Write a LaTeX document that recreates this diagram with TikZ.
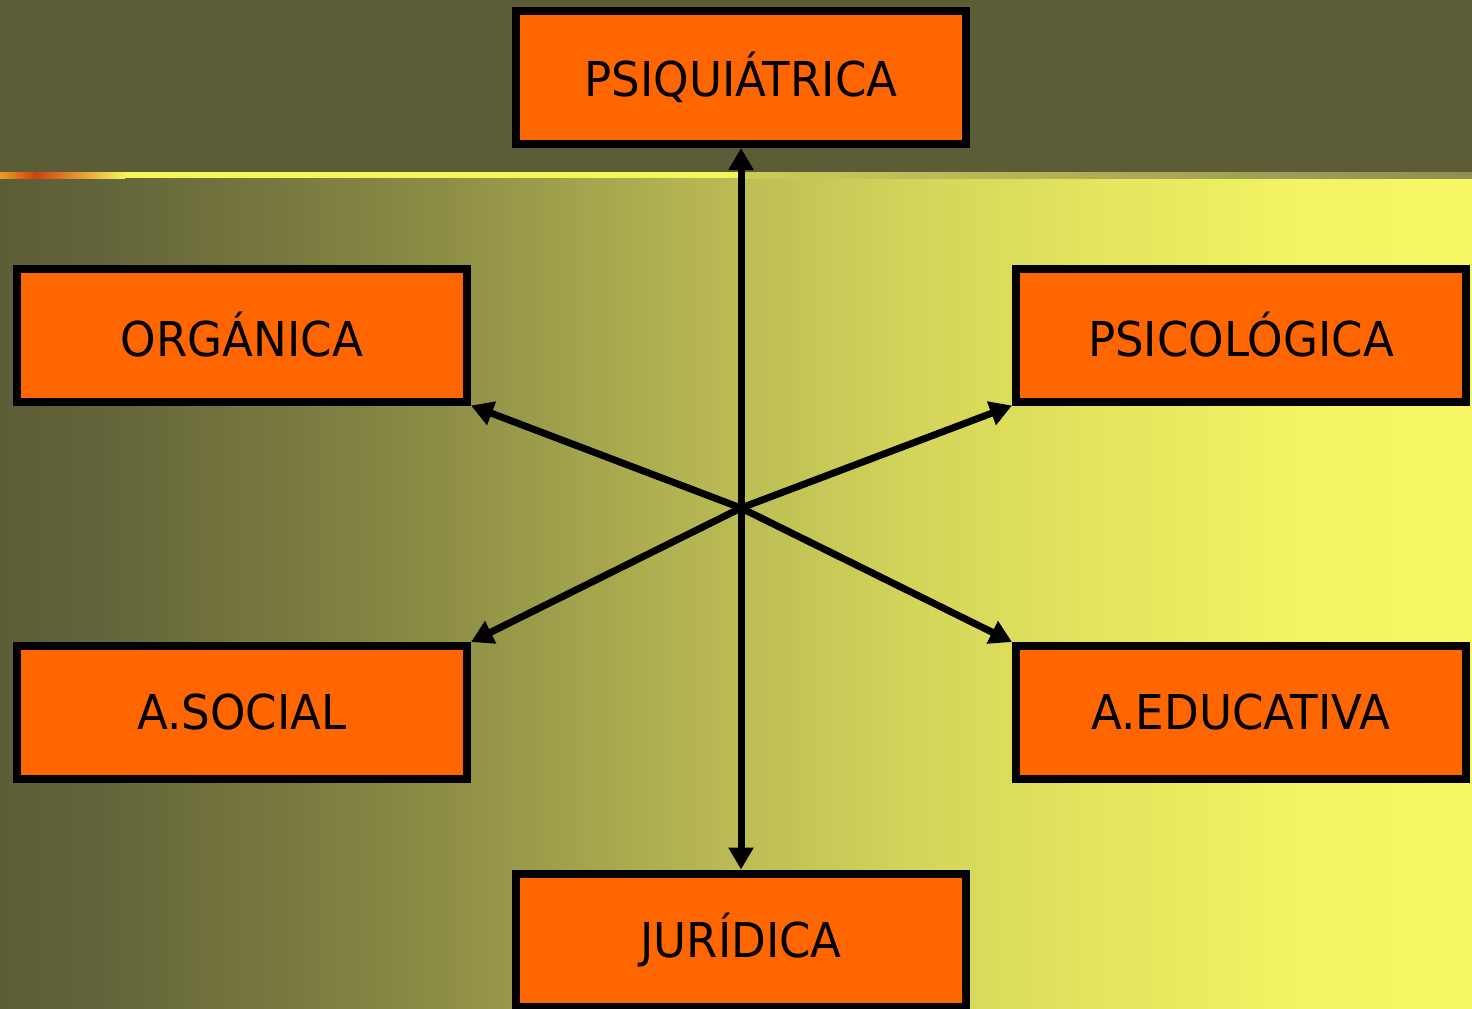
\documentclass[tikz,border=0pt]{standalone}
\usepackage{fontspec}
\setmainfont{DejaVu Sans}[FakeStretch=0.94]
\usetikzlibrary{arrows.meta}

\definecolor{bgdark}{HTML}{5C5D36}
\definecolor{bgA}{HTML}{63643A}
\definecolor{bgB}{HTML}{7A7B40}
\definecolor{bgC}{HTML}{8E8F46}
\definecolor{bgD}{HTML}{A6A74D}
\definecolor{bgE}{HTML}{BDBE55}
\definecolor{bgF}{HTML}{D2D35A}
\definecolor{bgG}{HTML}{E5E55F}
\definecolor{bgH}{HTML}{F3F363}
\definecolor{bgyellow}{HTML}{F8F866}
\definecolor{boxorange}{HTML}{FF6600}
\definecolor{rulered}{HTML}{D04010}
\definecolor{ruleorange}{HTML}{E8A020}
\definecolor{ruleyellow}{HTML}{F5F55A}
\definecolor{rulegrey}{HTML}{8E8E55}

\pgfdeclarehorizontalshading{bgfade}{100bp}{color(0bp)=(bgdark); color(25bp)=(bgdark);
  color(28.4bp)=(bgA); color(35.2bp)=(bgB); color(40.3bp)=(bgC); color(45.4bp)=(bgD);
  color(50.5bp)=(bgE); color(55.6bp)=(bgF); color(62.4bp)=(bgG); color(69.2bp)=(bgH);
  color(75bp)=(bgyellow); color(100bp)=(bgyellow)}

\begin{document}
\begin{tikzpicture}[x=0.5pt,y=-0.5pt,
    box/.style={draw=black, line width=4pt, fill=boxorange, minimum width=225pt,
      minimum height=66.5pt, inner sep=0pt, font=\fontsize{24}{28}\selectfont},
    link/.style={line width=3.5pt, -{Triangle[length=11pt,width=12pt]}}]
  \useasboundingbox (0,0) rectangle (1472,1008);
  \clip (0,0) rectangle (1472,1008);

  % background
  \fill[bgdark] (0,0) rectangle (1472,175);
  \shade[shading=bgfade] (0,175) rectangle (1472,1008);
  \shade[left color=ruleorange, right color=rulered] (0,172) rectangle (35,178);
  \shade[left color=rulered, right color=ruleyellow] (35,172) rectangle (125,178);
  \fill[ruleyellow] (125,172) rectangle (745,178);
  \shade[left color=ruleyellow!60!rulegrey, right color=rulegrey] (745,172) rectangle (1472,178);

  % boxes
  \node[box] (psiq) at (741,77.5) {PSIQUIÁTRICA};
  \node[box] (org) at (242,335) {ORGÁNICA};
  \node[box] (psic) at (1241,335) {PSICOLÓGICA};
  \node[box] (soc) at (242,712.5) {A.SOCIAL};
  \node[box] (edu) at (1241,712.5) {A.EDUCATIVA};
  \node[box] (jur) at (741,940) {JURÍDICA};

  % arrows
  \coordinate (c) at (741,508);
  \foreach \t in {psiq.south, jur.north, org.south east, psic.south west, soc.north east, edu.north west}{
    \draw[link] (c) -- (\t);
  }
\end{tikzpicture}
\end{document}
